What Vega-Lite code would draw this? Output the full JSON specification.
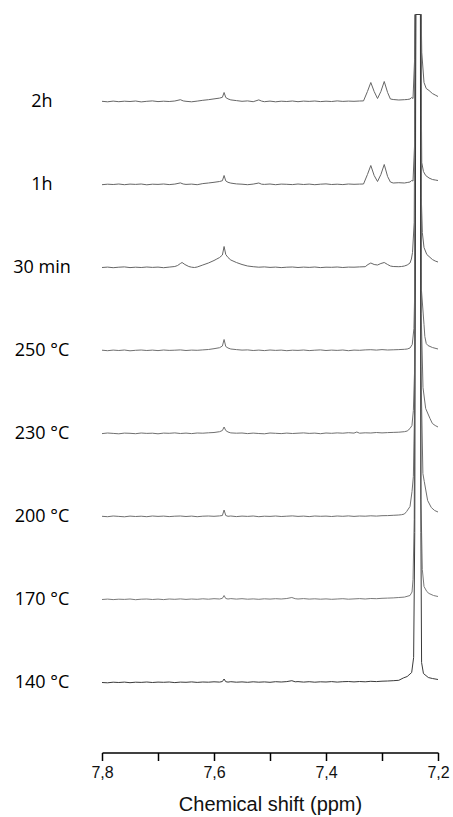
{
"$schema":"https://vega.github.io/schema/vega-lite/v6.json",
"padding":{"top":12,"left":13,"right":15,"bottom":1},
"background":"white",
"bounds":"flush",
"config":{"view":{"stroke":null}},
"data":{"values":[
{"s":"2h","x":7.80,"v":0.2},{"s":"2h","x":7.79,"v":-0.3},{"s":"2h","x":7.78,"v":0.4},{"s":"2h","x":7.77,"v":-0.2},{"s":"2h","x":7.76,"v":0.3},{"s":"2h","x":7.75,"v":0},{"s":"2h","x":7.74,"v":0.5},{"s":"2h","x":7.73,"v":-0.4},{"s":"2h","x":7.72,"v":0.2},{"s":"2h","x":7.71,"v":0.6},{"s":"2h","x":7.70,"v":-0.1},{"s":"2h","x":7.69,"v":0.3},{"s":"2h","x":7.68,"v":0},{"s":"2h","x":7.67,"v":0.5},{"s":"2h","x":7.66,"v":1.8},{"s":"2h","x":7.655,"v":0.6},{"s":"2h","x":7.65,"v":0.2},{"s":"2h","x":7.64,"v":-0.3},{"s":"2h","x":7.63,"v":0.4},{"s":"2h","x":7.62,"v":1.2},{"s":"2h","x":7.61,"v":1.8},{"s":"2h","x":7.60,"v":2.6},{"s":"2h","x":7.59,"v":3.4},{"s":"2h","x":7.585,"v":4.2},{"s":"2h","x":7.582,"v":9},{"s":"2h","x":7.579,"v":4},{"s":"2h","x":7.575,"v":2.6},{"s":"2h","x":7.57,"v":1.6},{"s":"2h","x":7.56,"v":0.9},{"s":"2h","x":7.55,"v":0.2},{"s":"2h","x":7.54,"v":0.6},{"s":"2h","x":7.53,"v":-0.2},{"s":"2h","x":7.52,"v":1.6},{"s":"2h","x":7.515,"v":0.4},{"s":"2h","x":7.51,"v":-0.2},{"s":"2h","x":7.50,"v":0.4},{"s":"2h","x":7.49,"v":-0.3},{"s":"2h","x":7.48,"v":0.3},{"s":"2h","x":7.47,"v":0},{"s":"2h","x":7.46,"v":0.5},{"s":"2h","x":7.45,"v":-0.2},{"s":"2h","x":7.44,"v":0.4},{"s":"2h","x":7.43,"v":0.1},{"s":"2h","x":7.42,"v":0.5},{"s":"2h","x":7.41,"v":-0.1},{"s":"2h","x":7.40,"v":0.3},{"s":"2h","x":7.39,"v":0},{"s":"2h","x":7.38,"v":0.6},{"s":"2h","x":7.37,"v":0.1},{"s":"2h","x":7.36,"v":0.4},{"s":"2h","x":7.35,"v":0.2},{"s":"2h","x":7.34,"v":0.5},{"s":"2h","x":7.333,"v":0.6},{"s":"2h","x":7.326,"v":10},{"s":"2h","x":7.32,"v":19},{"s":"2h","x":7.314,"v":10},{"s":"2h","x":7.308,"v":3},{"s":"2h","x":7.302,"v":10},{"s":"2h","x":7.296,"v":20},{"s":"2h","x":7.29,"v":9},{"s":"2h","x":7.285,"v":2.5},{"s":"2h","x":7.28,"v":2},{"s":"2h","x":7.27,"v":1.5},{"s":"2h","x":7.26,"v":1.8},{"s":"2h","x":7.255,"v":2},{"s":"2h","x":7.25,"v":2.5},{"s":"2h","x":7.247,"v":4},{"s":"2h","x":7.2446,"v":3},{"s":"2h","x":7.2418,"v":42},{"s":"2h","x":7.2410,"v":87},{"s":"2h","x":7.2300,"v":87},{"s":"2h","x":7.229,"v":49},{"s":"2h","x":7.225,"v":19},{"s":"2h","x":7.221,"v":13},{"s":"2h","x":7.216,"v":11},{"s":"2h","x":7.21,"v":8},{"s":"2h","x":7.205,"v":6.5},{"s":"2h","x":7.20,"v":5},
{"s":"1h","x":7.80,"v":-0.2},{"s":"1h","x":7.79,"v":0.3},{"s":"1h","x":7.78,"v":0},{"s":"1h","x":7.77,"v":0.5},{"s":"1h","x":7.76,"v":-0.2},{"s":"1h","x":7.75,"v":0.4},{"s":"1h","x":7.74,"v":0.1},{"s":"1h","x":7.73,"v":0.5},{"s":"1h","x":7.72,"v":-0.3},{"s":"1h","x":7.71,"v":0.3},{"s":"1h","x":7.70,"v":0.1},{"s":"1h","x":7.69,"v":0.5},{"s":"1h","x":7.68,"v":-0.1},{"s":"1h","x":7.67,"v":0.4},{"s":"1h","x":7.66,"v":1.6},{"s":"1h","x":7.655,"v":0.5},{"s":"1h","x":7.65,"v":0.1},{"s":"1h","x":7.64,"v":0.4},{"s":"1h","x":7.63,"v":-0.2},{"s":"1h","x":7.62,"v":0.9},{"s":"1h","x":7.61,"v":1.5},{"s":"1h","x":7.60,"v":2.2},{"s":"1h","x":7.59,"v":3},{"s":"1h","x":7.585,"v":3.8},{"s":"1h","x":7.582,"v":9},{"s":"1h","x":7.579,"v":3.6},{"s":"1h","x":7.575,"v":2.2},{"s":"1h","x":7.57,"v":1.4},{"s":"1h","x":7.56,"v":0.6},{"s":"1h","x":7.55,"v":0.3},{"s":"1h","x":7.54,"v":-0.2},{"s":"1h","x":7.53,"v":0.4},{"s":"1h","x":7.52,"v":1.5},{"s":"1h","x":7.515,"v":0.3},{"s":"1h","x":7.51,"v":0.1},{"s":"1h","x":7.50,"v":0.5},{"s":"1h","x":7.49,"v":-0.2},{"s":"1h","x":7.48,"v":0.4},{"s":"1h","x":7.47,"v":0.2},{"s":"1h","x":7.46,"v":-0.1},{"s":"1h","x":7.45,"v":0.5},{"s":"1h","x":7.44,"v":0},{"s":"1h","x":7.43,"v":0.4},{"s":"1h","x":7.42,"v":-0.2},{"s":"1h","x":7.41,"v":0.3},{"s":"1h","x":7.40,"v":0.6},{"s":"1h","x":7.39,"v":0},{"s":"1h","x":7.38,"v":0.3},{"s":"1h","x":7.37,"v":-0.1},{"s":"1h","x":7.36,"v":0.5},{"s":"1h","x":7.35,"v":0.2},{"s":"1h","x":7.34,"v":0.4},{"s":"1h","x":7.333,"v":0.5},{"s":"1h","x":7.326,"v":10},{"s":"1h","x":7.32,"v":19},{"s":"1h","x":7.314,"v":9},{"s":"1h","x":7.308,"v":3},{"s":"1h","x":7.302,"v":10},{"s":"1h","x":7.296,"v":20},{"s":"1h","x":7.29,"v":8},{"s":"1h","x":7.285,"v":2.5},{"s":"1h","x":7.28,"v":1.5},{"s":"1h","x":7.27,"v":1.8},{"s":"1h","x":7.26,"v":1.5},{"s":"1h","x":7.255,"v":2},{"s":"1h","x":7.25,"v":2.5},{"s":"1h","x":7.247,"v":4},{"s":"1h","x":7.2446,"v":3.5},{"s":"1h","x":7.2418,"v":40},{"s":"1h","x":7.2408,"v":170},{"s":"1h","x":7.2302,"v":170},{"s":"1h","x":7.2295,"v":60},{"s":"1h","x":7.229,"v":22},{"s":"1h","x":7.226,"v":13},{"s":"1h","x":7.222,"v":9},{"s":"1h","x":7.216,"v":6.5},{"s":"1h","x":7.21,"v":5},{"s":"1h","x":7.205,"v":4.5},{"s":"1h","x":7.20,"v":4},
{"s":"30 min","x":7.80,"v":0},{"s":"30 min","x":7.79,"v":0.4},{"s":"30 min","x":7.78,"v":-0.2},{"s":"30 min","x":7.77,"v":0.3},{"s":"30 min","x":7.76,"v":0.6},{"s":"30 min","x":7.75,"v":-0.1},{"s":"30 min","x":7.74,"v":0.3},{"s":"30 min","x":7.73,"v":0},{"s":"30 min","x":7.72,"v":0.5},{"s":"30 min","x":7.71,"v":0.1},{"s":"30 min","x":7.70,"v":0.4},{"s":"30 min","x":7.69,"v":-0.2},{"s":"30 min","x":7.68,"v":0.4},{"s":"30 min","x":7.67,"v":1},{"s":"30 min","x":7.665,"v":2},{"s":"30 min","x":7.66,"v":4},{"s":"30 min","x":7.657,"v":5},{"s":"30 min","x":7.652,"v":3},{"s":"30 min","x":7.645,"v":1},{"s":"30 min","x":7.64,"v":0.3},{"s":"30 min","x":7.635,"v":0},{"s":"30 min","x":7.63,"v":0.5},{"s":"30 min","x":7.625,"v":1.5},{"s":"30 min","x":7.62,"v":2.5},{"s":"30 min","x":7.61,"v":4.5},{"s":"30 min","x":7.60,"v":7},{"s":"30 min","x":7.595,"v":8.5},{"s":"30 min","x":7.59,"v":10},{"s":"30 min","x":7.585,"v":12.5},{"s":"30 min","x":7.582,"v":21},{"s":"30 min","x":7.579,"v":13},{"s":"30 min","x":7.575,"v":10},{"s":"30 min","x":7.57,"v":7.5},{"s":"30 min","x":7.56,"v":5},{"s":"30 min","x":7.55,"v":3},{"s":"30 min","x":7.54,"v":1.5},{"s":"30 min","x":7.53,"v":0.8},{"s":"30 min","x":7.52,"v":0.3},{"s":"30 min","x":7.51,"v":0.6},{"s":"30 min","x":7.50,"v":0.1},{"s":"30 min","x":7.49,"v":0.4},{"s":"30 min","x":7.48,"v":-0.1},{"s":"30 min","x":7.47,"v":0.3},{"s":"30 min","x":7.46,"v":0.5},{"s":"30 min","x":7.45,"v":0},{"s":"30 min","x":7.44,"v":0.4},{"s":"30 min","x":7.43,"v":0.1},{"s":"30 min","x":7.42,"v":0.5},{"s":"30 min","x":7.41,"v":-0.1},{"s":"30 min","x":7.40,"v":0.3},{"s":"30 min","x":7.39,"v":0.2},{"s":"30 min","x":7.38,"v":0.5},{"s":"30 min","x":7.37,"v":0},{"s":"30 min","x":7.36,"v":0.4},{"s":"30 min","x":7.35,"v":0.3},{"s":"30 min","x":7.34,"v":0.6},{"s":"30 min","x":7.33,"v":0.8},{"s":"30 min","x":7.325,"v":3},{"s":"30 min","x":7.32,"v":4.5},{"s":"30 min","x":7.314,"v":3},{"s":"30 min","x":7.308,"v":2.5},{"s":"30 min","x":7.302,"v":4},{"s":"30 min","x":7.296,"v":5},{"s":"30 min","x":7.29,"v":3},{"s":"30 min","x":7.285,"v":1.5},{"s":"30 min","x":7.28,"v":1},{"s":"30 min","x":7.27,"v":0.8},{"s":"30 min","x":7.265,"v":1},{"s":"30 min","x":7.26,"v":1.5},{"s":"30 min","x":7.255,"v":2.5},{"s":"30 min","x":7.25,"v":4.5},{"s":"30 min","x":7.2475,"v":8.5},{"s":"30 min","x":7.2455,"v":15},{"s":"30 min","x":7.2425,"v":45},{"s":"30 min","x":7.2406,"v":253},{"s":"30 min","x":7.2304,"v":253},{"s":"30 min","x":7.2298,"v":70},{"s":"30 min","x":7.228,"v":35},{"s":"30 min","x":7.225,"v":20},{"s":"30 min","x":7.22,"v":13},{"s":"30 min","x":7.216,"v":11},{"s":"30 min","x":7.21,"v":8},{"s":"30 min","x":7.205,"v":6.5},{"s":"30 min","x":7.20,"v":5.5},
{"s":"250 °C","x":7.80,"v":0.3},{"s":"250 °C","x":7.79,"v":-0.2},{"s":"250 °C","x":7.78,"v":0.4},{"s":"250 °C","x":7.77,"v":0},{"s":"250 °C","x":7.76,"v":0.5},{"s":"250 °C","x":7.75,"v":-0.3},{"s":"250 °C","x":7.74,"v":0.2},{"s":"250 °C","x":7.73,"v":0.5},{"s":"250 °C","x":7.72,"v":0},{"s":"250 °C","x":7.71,"v":0.4},{"s":"250 °C","x":7.70,"v":-0.1},{"s":"250 °C","x":7.69,"v":0.5},{"s":"250 °C","x":7.68,"v":0.1},{"s":"250 °C","x":7.67,"v":0.3},{"s":"250 °C","x":7.66,"v":0.6},{"s":"250 °C","x":7.65,"v":0},{"s":"250 °C","x":7.64,"v":0.4},{"s":"250 °C","x":7.63,"v":0.2},{"s":"250 °C","x":7.62,"v":0.6},{"s":"250 °C","x":7.61,"v":1},{"s":"250 °C","x":7.60,"v":1.8},{"s":"250 °C","x":7.59,"v":2.8},{"s":"250 °C","x":7.585,"v":4.5},{"s":"250 °C","x":7.582,"v":11},{"s":"250 °C","x":7.579,"v":4},{"s":"250 °C","x":7.575,"v":2.5},{"s":"250 °C","x":7.57,"v":1.5},{"s":"250 °C","x":7.56,"v":0.9},{"s":"250 °C","x":7.55,"v":0.4},{"s":"250 °C","x":7.54,"v":0.6},{"s":"250 °C","x":7.53,"v":0},{"s":"250 °C","x":7.52,"v":0.4},{"s":"250 °C","x":7.51,"v":-0.1},{"s":"250 °C","x":7.50,"v":0.5},{"s":"250 °C","x":7.49,"v":0.1},{"s":"250 °C","x":7.48,"v":0.4},{"s":"250 °C","x":7.47,"v":-0.2},{"s":"250 °C","x":7.46,"v":0.3},{"s":"250 °C","x":7.45,"v":0.1},{"s":"250 °C","x":7.44,"v":0.5},{"s":"250 °C","x":7.43,"v":-0.1},{"s":"250 °C","x":7.42,"v":0.3},{"s":"250 °C","x":7.41,"v":0.6},{"s":"250 °C","x":7.40,"v":0},{"s":"250 °C","x":7.39,"v":0.4},{"s":"250 °C","x":7.38,"v":0.1},{"s":"250 °C","x":7.37,"v":0.5},{"s":"250 °C","x":7.36,"v":-0.2},{"s":"250 °C","x":7.35,"v":0.4},{"s":"250 °C","x":7.34,"v":0.2},{"s":"250 °C","x":7.33,"v":0.6},{"s":"250 °C","x":7.32,"v":0.8},{"s":"250 °C","x":7.31,"v":0.4},{"s":"250 °C","x":7.30,"v":0.9},{"s":"250 °C","x":7.29,"v":0.5},{"s":"250 °C","x":7.28,"v":0.7},{"s":"250 °C","x":7.27,"v":0.9},{"s":"250 °C","x":7.26,"v":1.2},{"s":"250 °C","x":7.255,"v":1.5},{"s":"250 °C","x":7.25,"v":2.5},{"s":"250 °C","x":7.246,"v":6},{"s":"250 °C","x":7.243,"v":22},{"s":"250 °C","x":7.2415,"v":60},{"s":"250 °C","x":7.2404,"v":336},{"s":"250 °C","x":7.2306,"v":336},{"s":"250 °C","x":7.2295,"v":60},{"s":"250 °C","x":7.225,"v":26},{"s":"250 °C","x":7.2235,"v":14},{"s":"250 °C","x":7.221,"v":7},{"s":"250 °C","x":7.218,"v":5},{"s":"250 °C","x":7.21,"v":3},{"s":"250 °C","x":7.20,"v":1.5},
{"s":"230 °C","x":7.80,"v":-0.1},{"s":"230 °C","x":7.79,"v":0.5},{"s":"230 °C","x":7.78,"v":0.1},{"s":"230 °C","x":7.77,"v":-0.3},{"s":"230 °C","x":7.76,"v":0.4},{"s":"230 °C","x":7.75,"v":0.2},{"s":"230 °C","x":7.74,"v":-0.2},{"s":"230 °C","x":7.73,"v":0.5},{"s":"230 °C","x":7.72,"v":0.1},{"s":"230 °C","x":7.71,"v":0.3},{"s":"230 °C","x":7.70,"v":-0.3},{"s":"230 °C","x":7.69,"v":0.4},{"s":"230 °C","x":7.68,"v":0.2},{"s":"230 °C","x":7.67,"v":0.6},{"s":"230 °C","x":7.66,"v":0},{"s":"230 °C","x":7.65,"v":0.4},{"s":"230 °C","x":7.64,"v":-0.1},{"s":"230 °C","x":7.63,"v":0.5},{"s":"230 °C","x":7.62,"v":0.3},{"s":"230 °C","x":7.61,"v":0.7},{"s":"230 °C","x":7.60,"v":1},{"s":"230 °C","x":7.59,"v":1.8},{"s":"230 °C","x":7.585,"v":3},{"s":"230 °C","x":7.582,"v":6.5},{"s":"230 °C","x":7.579,"v":3},{"s":"230 °C","x":7.575,"v":1.5},{"s":"230 °C","x":7.57,"v":0.6},{"s":"230 °C","x":7.56,"v":0.3},{"s":"230 °C","x":7.55,"v":0.5},{"s":"230 °C","x":7.54,"v":-0.1},{"s":"230 °C","x":7.53,"v":0.4},{"s":"230 °C","x":7.52,"v":0},{"s":"230 °C","x":7.51,"v":-0.3},{"s":"230 °C","x":7.50,"v":0.5},{"s":"230 °C","x":7.49,"v":0.2},{"s":"230 °C","x":7.48,"v":-0.1},{"s":"230 °C","x":7.47,"v":0.4},{"s":"230 °C","x":7.46,"v":0},{"s":"230 °C","x":7.45,"v":0.3},{"s":"230 °C","x":7.44,"v":0.6},{"s":"230 °C","x":7.43,"v":0.1},{"s":"230 °C","x":7.42,"v":0.4},{"s":"230 °C","x":7.41,"v":-0.2},{"s":"230 °C","x":7.40,"v":0.5},{"s":"230 °C","x":7.39,"v":0.2},{"s":"230 °C","x":7.38,"v":0.6},{"s":"230 °C","x":7.37,"v":0.3},{"s":"230 °C","x":7.36,"v":0.8},{"s":"230 °C","x":7.35,"v":0.4},{"s":"230 °C","x":7.345,"v":1.5},{"s":"230 °C","x":7.34,"v":0.3},{"s":"230 °C","x":7.33,"v":0.7},{"s":"230 °C","x":7.32,"v":0.5},{"s":"230 °C","x":7.31,"v":1},{"s":"230 °C","x":7.30,"v":0.6},{"s":"230 °C","x":7.29,"v":0.9},{"s":"230 °C","x":7.28,"v":1.1},{"s":"230 °C","x":7.27,"v":1.3},{"s":"230 °C","x":7.26,"v":1.8},{"s":"230 °C","x":7.255,"v":2.5},{"s":"230 °C","x":7.25,"v":5},{"s":"230 °C","x":7.2465,"v":8},{"s":"230 °C","x":7.244,"v":23},{"s":"230 °C","x":7.242,"v":60},{"s":"230 °C","x":7.2402,"v":419},{"s":"230 °C","x":7.2308,"v":419},{"s":"230 °C","x":7.23,"v":120},{"s":"230 °C","x":7.2268,"v":46},{"s":"230 °C","x":7.222,"v":25},{"s":"230 °C","x":7.2143,"v":15},{"s":"230 °C","x":7.21,"v":10},{"s":"230 °C","x":7.205,"v":8},{"s":"230 °C","x":7.20,"v":6.5},
{"s":"200 °C","x":7.80,"v":0.2},{"s":"200 °C","x":7.79,"v":-0.2},{"s":"200 °C","x":7.78,"v":0.5},{"s":"200 °C","x":7.77,"v":0.1},{"s":"200 °C","x":7.76,"v":-0.3},{"s":"200 °C","x":7.75,"v":0.4},{"s":"200 °C","x":7.74,"v":0},{"s":"200 °C","x":7.73,"v":0.3},{"s":"200 °C","x":7.72,"v":-0.2},{"s":"200 °C","x":7.71,"v":0.5},{"s":"200 °C","x":7.70,"v":0.1},{"s":"200 °C","x":7.69,"v":0.4},{"s":"200 °C","x":7.68,"v":-0.1},{"s":"200 °C","x":7.67,"v":0.3},{"s":"200 °C","x":7.66,"v":0.5},{"s":"200 °C","x":7.65,"v":0},{"s":"200 °C","x":7.64,"v":0.4},{"s":"200 °C","x":7.63,"v":-0.2},{"s":"200 °C","x":7.62,"v":0.3},{"s":"200 °C","x":7.61,"v":0.5},{"s":"200 °C","x":7.60,"v":0.2},{"s":"200 °C","x":7.59,"v":0.6},{"s":"200 °C","x":7.585,"v":1},{"s":"200 °C","x":7.582,"v":6.5},{"s":"200 °C","x":7.579,"v":1},{"s":"200 °C","x":7.575,"v":0.2},{"s":"200 °C","x":7.57,"v":0.5},{"s":"200 °C","x":7.56,"v":-0.1},{"s":"200 °C","x":7.55,"v":0.4},{"s":"200 °C","x":7.54,"v":0.1},{"s":"200 °C","x":7.53,"v":0.5},{"s":"200 °C","x":7.52,"v":-0.2},{"s":"200 °C","x":7.51,"v":0.3},{"s":"200 °C","x":7.50,"v":0.1},{"s":"200 °C","x":7.49,"v":0.5},{"s":"200 °C","x":7.48,"v":0},{"s":"200 °C","x":7.47,"v":0.3},{"s":"200 °C","x":7.46,"v":0.6},{"s":"200 °C","x":7.45,"v":0.1},{"s":"200 °C","x":7.44,"v":0.4},{"s":"200 °C","x":7.43,"v":-0.1},{"s":"200 °C","x":7.42,"v":0.5},{"s":"200 °C","x":7.41,"v":0.2},{"s":"200 °C","x":7.40,"v":0.4},{"s":"200 °C","x":7.39,"v":0},{"s":"200 °C","x":7.38,"v":0.5},{"s":"200 °C","x":7.37,"v":0.2},{"s":"200 °C","x":7.36,"v":0.6},{"s":"200 °C","x":7.35,"v":0.1},{"s":"200 °C","x":7.34,"v":0.5},{"s":"200 °C","x":7.33,"v":0.3},{"s":"200 °C","x":7.32,"v":0.7},{"s":"200 °C","x":7.31,"v":0.4},{"s":"200 °C","x":7.30,"v":0.8},{"s":"200 °C","x":7.29,"v":0.9},{"s":"200 °C","x":7.28,"v":1.2},{"s":"200 °C","x":7.27,"v":1.5},{"s":"200 °C","x":7.265,"v":1.8},{"s":"200 °C","x":7.26,"v":2.5},{"s":"200 °C","x":7.256,"v":5},{"s":"200 °C","x":7.25,"v":10},{"s":"200 °C","x":7.2464,"v":25},{"s":"200 °C","x":7.244,"v":40},{"s":"200 °C","x":7.242,"v":100},{"s":"200 °C","x":7.2400,"v":502},{"s":"200 °C","x":7.2310,"v":502},{"s":"200 °C","x":7.2305,"v":150},{"s":"200 °C","x":7.227,"v":43},{"s":"200 °C","x":7.2245,"v":35},{"s":"200 °C","x":7.2185,"v":16},{"s":"200 °C","x":7.212,"v":9},{"s":"200 °C","x":7.206,"v":6},{"s":"200 °C","x":7.20,"v":4.5},
{"s":"170 °C","x":7.80,"v":0},{"s":"170 °C","x":7.79,"v":0.4},{"s":"170 °C","x":7.78,"v":-0.1},{"s":"170 °C","x":7.77,"v":0.3},{"s":"170 °C","x":7.76,"v":0.1},{"s":"170 °C","x":7.75,"v":0.5},{"s":"170 °C","x":7.74,"v":-0.2},{"s":"170 °C","x":7.73,"v":0.3},{"s":"170 °C","x":7.72,"v":0.5},{"s":"170 °C","x":7.71,"v":0},{"s":"170 °C","x":7.70,"v":0.4},{"s":"170 °C","x":7.69,"v":-0.1},{"s":"170 °C","x":7.68,"v":0.5},{"s":"170 °C","x":7.67,"v":0.2},{"s":"170 °C","x":7.66,"v":0.6},{"s":"170 °C","x":7.65,"v":0.1},{"s":"170 °C","x":7.64,"v":0.5},{"s":"170 °C","x":7.63,"v":0.2},{"s":"170 °C","x":7.62,"v":0.7},{"s":"170 °C","x":7.61,"v":0.3},{"s":"170 °C","x":7.60,"v":0.8},{"s":"170 °C","x":7.59,"v":0.5},{"s":"170 °C","x":7.585,"v":1.2},{"s":"170 °C","x":7.582,"v":4},{"s":"170 °C","x":7.579,"v":1},{"s":"170 °C","x":7.575,"v":0.5},{"s":"170 °C","x":7.57,"v":0.9},{"s":"170 °C","x":7.56,"v":0.4},{"s":"170 °C","x":7.55,"v":0.8},{"s":"170 °C","x":7.54,"v":0.3},{"s":"170 °C","x":7.53,"v":0.6},{"s":"170 °C","x":7.52,"v":0.2},{"s":"170 °C","x":7.51,"v":0.7},{"s":"170 °C","x":7.50,"v":0.4},{"s":"170 °C","x":7.49,"v":0.8},{"s":"170 °C","x":7.48,"v":0.5},{"s":"170 °C","x":7.47,"v":1},{"s":"170 °C","x":7.461,"v":2},{"s":"170 °C","x":7.455,"v":0.8},{"s":"170 °C","x":7.45,"v":0.5},{"s":"170 °C","x":7.44,"v":0.9},{"s":"170 °C","x":7.43,"v":0.4},{"s":"170 °C","x":7.42,"v":0.7},{"s":"170 °C","x":7.41,"v":0.3},{"s":"170 °C","x":7.40,"v":0.6},{"s":"170 °C","x":7.39,"v":0.2},{"s":"170 °C","x":7.38,"v":0.5},{"s":"170 °C","x":7.37,"v":0.8},{"s":"170 °C","x":7.36,"v":0.3},{"s":"170 °C","x":7.35,"v":0.6},{"s":"170 °C","x":7.34,"v":0.9},{"s":"170 °C","x":7.33,"v":0.5},{"s":"170 °C","x":7.32,"v":1},{"s":"170 °C","x":7.31,"v":0.8},{"s":"170 °C","x":7.30,"v":1.2},{"s":"170 °C","x":7.29,"v":1.4},{"s":"170 °C","x":7.28,"v":1.6},{"s":"170 °C","x":7.27,"v":2},{"s":"170 °C","x":7.26,"v":2.4},{"s":"170 °C","x":7.25,"v":4},{"s":"170 °C","x":7.2464,"v":7.5},{"s":"170 °C","x":7.2446,"v":20},{"s":"170 °C","x":7.2425,"v":80},{"s":"170 °C","x":7.2398,"v":585},{"s":"170 °C","x":7.2312,"v":585},{"s":"170 °C","x":7.2305,"v":100},{"s":"170 °C","x":7.228,"v":30},{"s":"170 °C","x":7.225,"v":13},{"s":"170 °C","x":7.22,"v":8},{"s":"170 °C","x":7.216,"v":6},{"s":"170 °C","x":7.208,"v":4},{"s":"170 °C","x":7.20,"v":3},
{"s":"140 °C","x":7.80,"v":0},{"s":"140 °C","x":7.79,"v":-0.3},{"s":"140 °C","x":7.78,"v":0.3},{"s":"140 °C","x":7.77,"v":0},{"s":"140 °C","x":7.76,"v":0.4},{"s":"140 °C","x":7.75,"v":-0.2},{"s":"140 °C","x":7.74,"v":0.3},{"s":"140 °C","x":7.73,"v":0.1},{"s":"140 °C","x":7.72,"v":0.5},{"s":"140 °C","x":7.71,"v":0},{"s":"140 °C","x":7.70,"v":0.4},{"s":"140 °C","x":7.69,"v":0.2},{"s":"140 °C","x":7.68,"v":0.5},{"s":"140 °C","x":7.67,"v":-0.1},{"s":"140 °C","x":7.66,"v":0.4},{"s":"140 °C","x":7.65,"v":0.2},{"s":"140 °C","x":7.64,"v":0.6},{"s":"140 °C","x":7.63,"v":0.1},{"s":"140 °C","x":7.62,"v":0.5},{"s":"140 °C","x":7.61,"v":0.3},{"s":"140 °C","x":7.60,"v":0.7},{"s":"140 °C","x":7.59,"v":0.4},{"s":"140 °C","x":7.585,"v":1},{"s":"140 °C","x":7.582,"v":3.5},{"s":"140 °C","x":7.579,"v":0.8},{"s":"140 °C","x":7.575,"v":0.4},{"s":"140 °C","x":7.57,"v":0.8},{"s":"140 °C","x":7.56,"v":0.3},{"s":"140 °C","x":7.55,"v":0.6},{"s":"140 °C","x":7.54,"v":0.2},{"s":"140 °C","x":7.53,"v":0.7},{"s":"140 °C","x":7.52,"v":0.3},{"s":"140 °C","x":7.51,"v":0.6},{"s":"140 °C","x":7.50,"v":0.2},{"s":"140 °C","x":7.49,"v":0.8},{"s":"140 °C","x":7.48,"v":0.5},{"s":"140 °C","x":7.47,"v":0.9},{"s":"140 °C","x":7.461,"v":1.8},{"s":"140 °C","x":7.455,"v":0.7},{"s":"140 °C","x":7.45,"v":0.9},{"s":"140 °C","x":7.44,"v":0.4},{"s":"140 °C","x":7.43,"v":0.8},{"s":"140 °C","x":7.42,"v":0.3},{"s":"140 °C","x":7.41,"v":0.7},{"s":"140 °C","x":7.40,"v":0.5},{"s":"140 °C","x":7.39,"v":0.9},{"s":"140 °C","x":7.38,"v":0.4},{"s":"140 °C","x":7.37,"v":0.8},{"s":"140 °C","x":7.36,"v":1},{"s":"140 °C","x":7.35,"v":0.6},{"s":"140 °C","x":7.34,"v":1},{"s":"140 °C","x":7.33,"v":0.7},{"s":"140 °C","x":7.32,"v":1.2},{"s":"140 °C","x":7.31,"v":0.9},{"s":"140 °C","x":7.30,"v":1.3},{"s":"140 °C","x":7.29,"v":1.5},{"s":"140 °C","x":7.28,"v":1.8},{"s":"140 °C","x":7.27,"v":2.2},{"s":"140 °C","x":7.262,"v":4.5},{"s":"140 °C","x":7.255,"v":6},{"s":"140 °C","x":7.247,"v":10},{"s":"140 °C","x":7.2435,"v":25},{"s":"140 °C","x":7.2415,"v":150},{"s":"140 °C","x":7.2396,"v":668},{"s":"140 °C","x":7.2314,"v":668},{"s":"140 °C","x":7.2305,"v":150},{"s":"140 °C","x":7.2293,"v":20},{"s":"140 °C","x":7.226,"v":9},{"s":"140 °C","x":7.2173,"v":5},{"s":"140 °C","x":7.21,"v":4},{"s":"140 °C","x":7.20,"v":3}
]},
"facet":{"row":{"field":"s","type":"nominal","sort":["2h","1h","30 min","250 °C","230 °C","200 °C","170 °C","140 °C"],"header":{"title":null,"labels":false}}},
"spacing":{"row":0},
"spec":{
  "width":336,"height":83,
  "encoding":{
    "x":{"field":"x","type":"quantitative","scale":{"domain":[7.8,7.2],"nice":false,"zero":false},
      "axis":{"values":[7.8,7.7,7.6,7.5,7.4,7.3,7.2],"labelExpr":"round(datum.value*10) % 2 == 0 ? replace(format(datum.value, '.1f'), '.', ',') : ''","labelOverlap":false,"labelFlush":false,"title":"Chemical shift (ppm)","offset":28.5,"grid":false,"domainColor":"#000","domainWidth":1.5,"tickColor":"#000","tickWidth":1.5,"tickSize":8,"labelFont":"Liberation Sans","labelFontSize":16,"labelColor":"#111","labelPadding":4,"titleFont":"Liberation Sans","titleFontSize":20,"titleFontWeight":"normal","titleColor":"#111","titlePadding":14}}
  },
  "layer":[
    {"mark":{"type":"line","clip":false,"strokeWidth":1,"interpolate":"linear"},
     "encoding":{
      "y":{"field":"v","type":"quantitative","scale":{"domain":[-41.5,41.5],"nice":false,"zero":false},"axis":null},
      "color":{"field":"s","type":"nominal","scale":{"domain":["2h","1h","30 min","250 °C","230 °C","200 °C","170 °C","140 °C"],"range":["#666","#666","#666","#707070","#707070","#707070","#7a7a7a","#3a3a3a"]},"legend":null}}},
    {"transform":[{"aggregate":[{"op":"max","field":"x","as":"x"}],"groupby":["s"]}],
     "mark":{"type":"text","align":"center","baseline":"middle","dx":-60,"font":"Open Sans","fontSize":18,"color":"#000"},
     "encoding":{"y":{"datum":0},"text":{"field":"s","type":"nominal"}}}
  ]
}
}
